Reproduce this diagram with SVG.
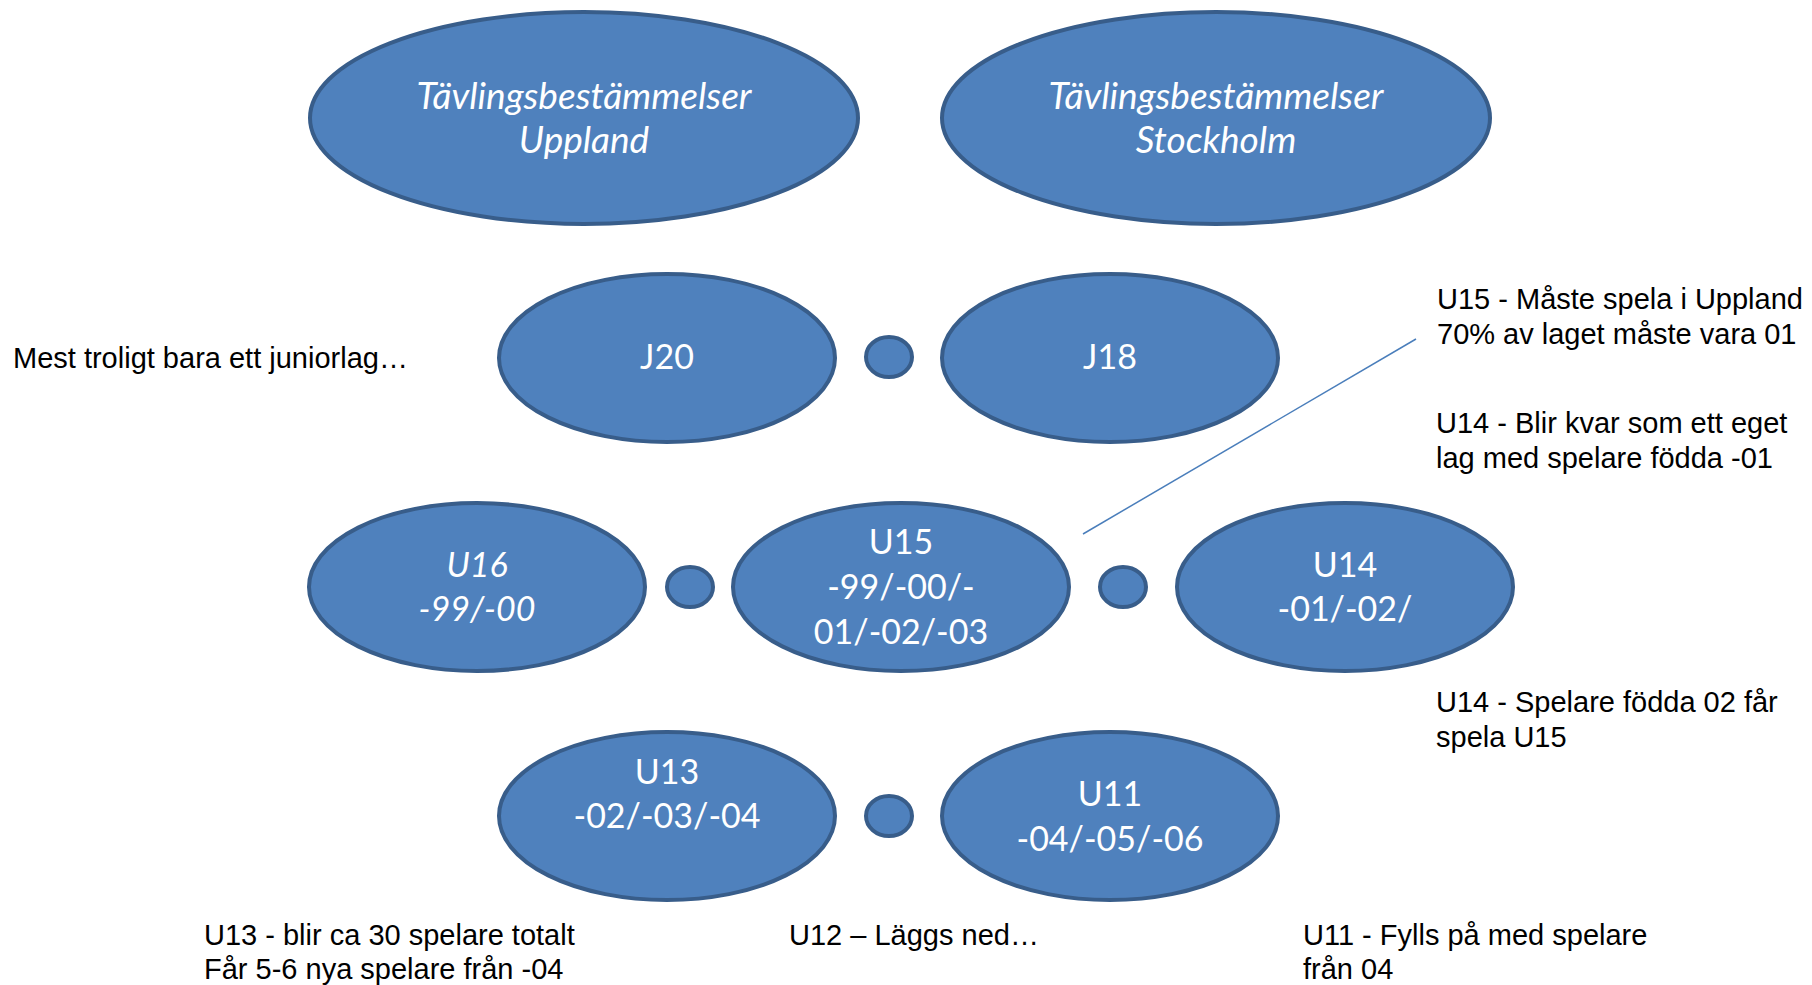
<svg xmlns="http://www.w3.org/2000/svg" width="1812" height="985" viewBox="0 0 1812 985">
<style>
.n{fill:#4F81BD;stroke:#385D8A;stroke-width:4}
.t{font-family:Lato,"Open Sans",sans-serif;font-size:34px;fill:#fff;text-anchor:middle}
.i{font-style:italic}
.h{font-size:37px}
.c{font-family:"Liberation Sans",Arial,sans-serif;font-size:29px;fill:#000}
</style>
<rect width="1812" height="985" fill="#fff"/>
<g id="connectors">
<line x1="1083" y1="534" x2="1416" y2="339" stroke="#4A7EBB" stroke-width="1.5"/>
</g>
<g id="uppland"><ellipse class="n" cx="584" cy="118" rx="274" ry="106"/><text class="t i h" x="584" y="109">Tävlingsbestämmelser</text><text class="t i h" x="584" y="153">Uppland</text></g>
<g id="stockholm"><ellipse class="n" cx="1216" cy="118" rx="274" ry="106"/><text class="t i h" x="1216" y="109">Tävlingsbestämmelser</text><text class="t i h" x="1216" y="153">Stockholm</text></g>
<g id="j20"><ellipse class="n" cx="667" cy="358" rx="168" ry="84"/><text class="t" x="667" y="369">J20</text></g>
<g id="dot1"><ellipse class="n" cx="889" cy="357" rx="23" ry="20"/></g>
<g id="j18"><ellipse class="n" cx="1110" cy="358" rx="168" ry="84"/><text class="t" x="1110" y="369">J18</text></g>
<g id="u16"><ellipse class="n" cx="477" cy="587" rx="168" ry="84"/><text class="t i" x="477" y="577">U16</text><text class="t i" x="477" y="621">-99/-00</text></g>
<g id="dot2"><ellipse class="n" cx="690" cy="587" rx="23" ry="20"/></g>
<g id="u15"><ellipse class="n" cx="901" cy="587" rx="168" ry="84"/><text class="t" x="901" y="554">U15</text><text class="t" x="901" y="599">-99/-00/-</text><text class="t" x="901" y="644">01/-02/-03</text></g>
<g id="dot3"><ellipse class="n" cx="1123" cy="587" rx="23" ry="20"/></g>
<g id="u14"><ellipse class="n" cx="1345" cy="587" rx="168" ry="84"/><text class="t" x="1345" y="577">U14</text><text class="t" x="1345" y="621">-01/-02/</text></g>
<g id="u13"><ellipse class="n" cx="667" cy="816" rx="168" ry="84"/><text class="t" x="667" y="784">U13</text><text class="t" x="667" y="828">-02/-03/-04</text></g>
<g id="dot4"><ellipse class="n" cx="889" cy="816" rx="23" ry="20"/></g>
<g id="u11"><ellipse class="n" cx="1110" cy="816" rx="168" ry="84"/><text class="t" x="1110" y="806">U11</text><text class="t" x="1110" y="851">-04/-05/-06</text></g>
<g id="notes">
<text class="c" x="13" y="368">Mest troligt bara ett juniorlag…</text>
<text class="c" x="1437" y="309">U15 - Måste spela i Uppland</text>
<text class="c" x="1437" y="344">70% av laget måste vara 01</text>
<text class="c" x="1436" y="433">U14 - Blir kvar som ett eget</text>
<text class="c" x="1436" y="468">lag med spelare födda -01</text>
<text class="c" x="1436" y="712">U14 - Spelare födda 02 får</text>
<text class="c" x="1436" y="747">spela U15</text>
<text class="c" x="204" y="945">U13 - blir ca 30 spelare totalt</text>
<text class="c" x="204" y="979">Får 5-6 nya spelare från -04</text>
<text class="c" x="789" y="945">U12 – Läggs ned…</text>
<text class="c" x="1303" y="945">U11 - Fylls på med spelare</text>
<text class="c" x="1303" y="979">från 04</text>
</g>
</svg>
